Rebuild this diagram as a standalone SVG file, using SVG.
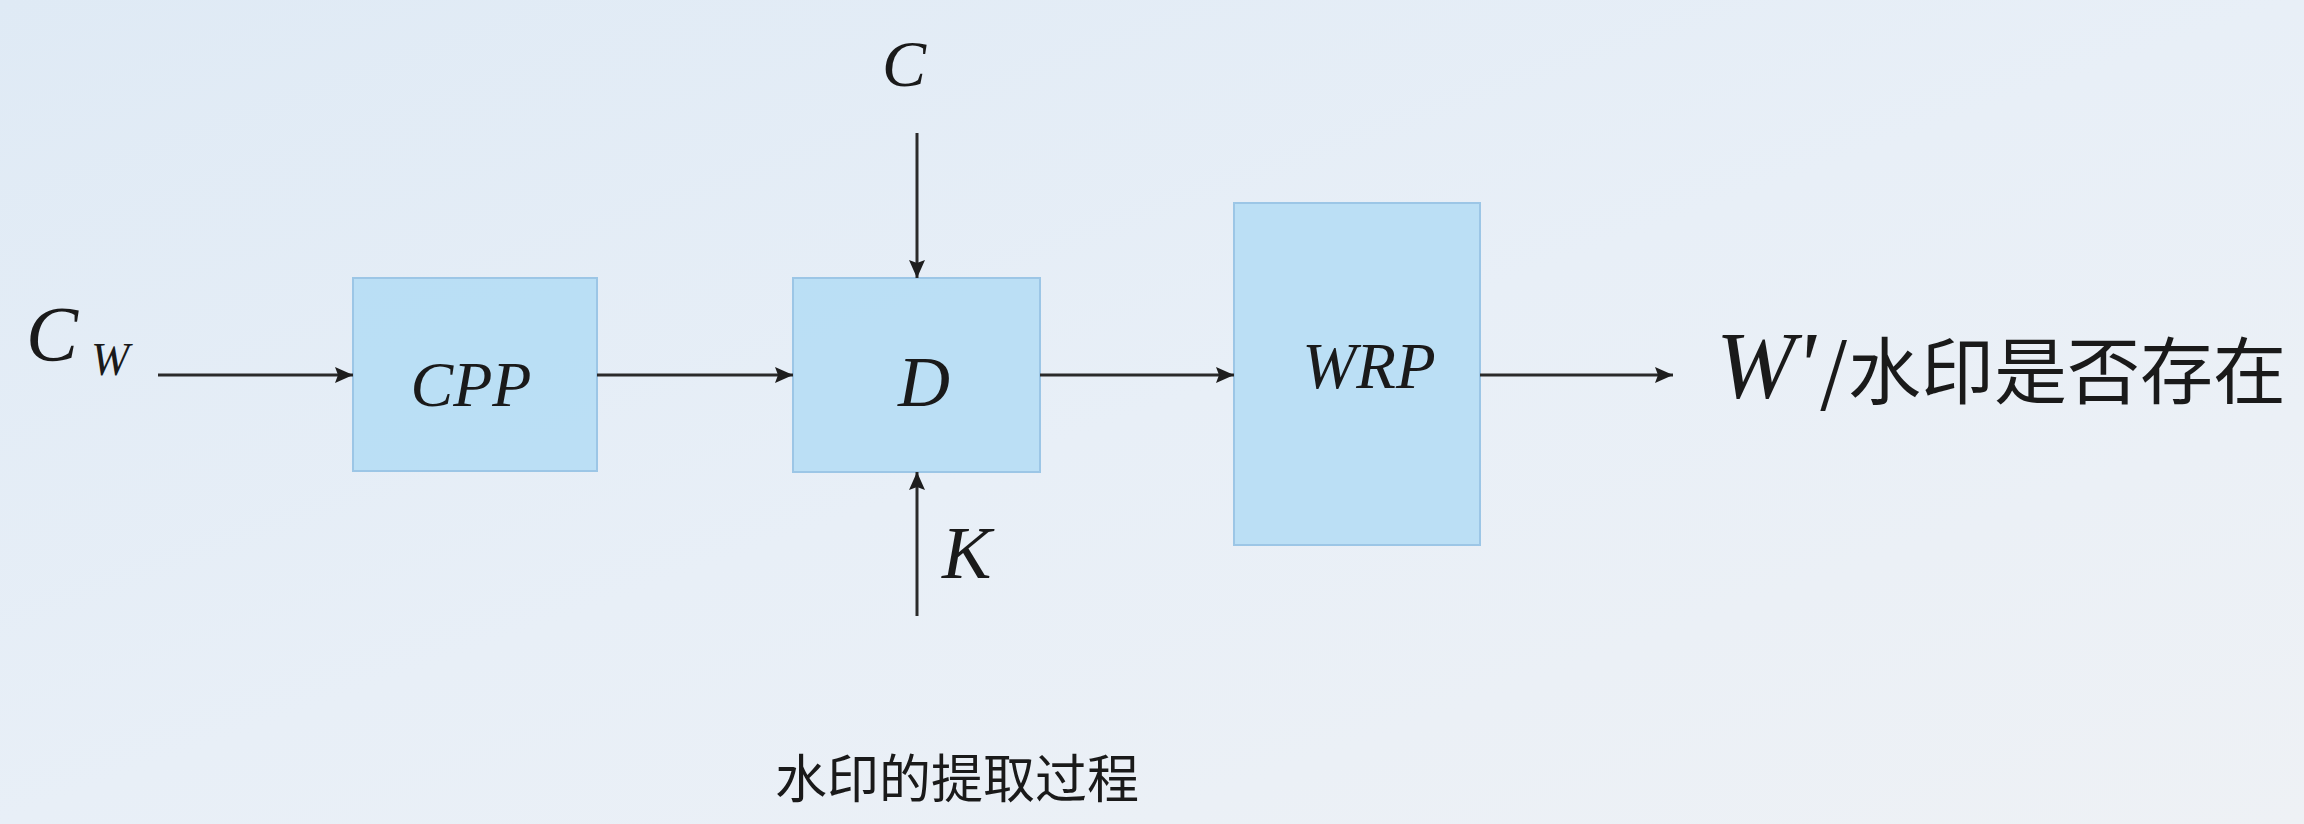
<svg xmlns="http://www.w3.org/2000/svg" width="2304" height="824" viewBox="0 0 2304 824">
<defs>
<linearGradient id="bg" x1="0" y1="0" x2="1" y2="1">
<stop offset="0" stop-color="#dfeaf5"/>
<stop offset="0.5" stop-color="#e8eff7"/>
<stop offset="1" stop-color="#eef1f5"/>
</linearGradient>
<marker id="ah" viewBox="0 0 18 16" refX="18" refY="8" markerWidth="18" markerHeight="16" markerUnits="userSpaceOnUse" orient="auto">
<path d="M0,0 L18,8 L0,16 L3,8 Z" fill="#1e1e1e"/>
</marker>
<style>
.box{fill:#b3dcf5;fill-opacity:0.85;stroke:#9cc6e6;stroke-width:2}
.lbl{font-family:"Liberation Serif","Times New Roman",serif;font-style:italic;fill:#1a1a1a}
.cjk{font-family:"Noto Sans CJK SC","Noto Sans",sans-serif;fill:#1a1a1a}
.con{stroke:#2a2a2a;stroke-width:3;fill:none;marker-end:url(#ah)}
</style>
</defs>
<rect width="2304" height="824" fill="url(#bg)"/>
<g id="input-cw">
<text class="lbl" x="26" y="360" font-size="78">C</text>
<text class="lbl" x="91" y="375" font-size="46">W</text>
</g>
<g id="input-c">
<text class="lbl" x="882" y="86" font-size="66">C</text>
</g>
<g id="input-k">
<text class="lbl" x="942" y="578" font-size="74">K</text>
</g>
<g id="node-cpp">
<rect class="box" x="353" y="278" width="244" height="193"/>
<text class="lbl" x="471" y="406" font-size="64" text-anchor="middle">CPP</text>
</g>
<g id="node-d">
<rect class="box" x="793" y="278" width="247" height="194"/>
<text class="lbl" x="924" y="406" font-size="72" text-anchor="middle">D</text>
</g>
<g id="node-wrp">
<rect class="box" x="1234" y="203" width="246" height="342"/>
<text class="lbl" x="1369" y="388" font-size="65" text-anchor="middle">WRP</text>
</g>
<g id="output">
<text x="1716" y="398"><tspan class="lbl" font-size="95">W'</tspan><tspan class="cjk" font-size="73" dx="4">/水印是否存在</tspan></text>
</g>
<g id="connectors">
<line class="con" x1="158" y1="375" x2="353" y2="375"/>
<line class="con" x1="597" y1="375" x2="793" y2="375"/>
<line class="con" x1="1040" y1="375" x2="1234" y2="375"/>
<line class="con" x1="1480" y1="375" x2="1673" y2="375"/>
<line class="con" x1="917" y1="133" x2="917" y2="278"/>
<line class="con" x1="917" y1="616" x2="917" y2="472"/>
</g>
<g id="caption">
<text class="cjk" x="957" y="798" font-size="52" text-anchor="middle">水印的提取过程</text>
</g>
</svg>
